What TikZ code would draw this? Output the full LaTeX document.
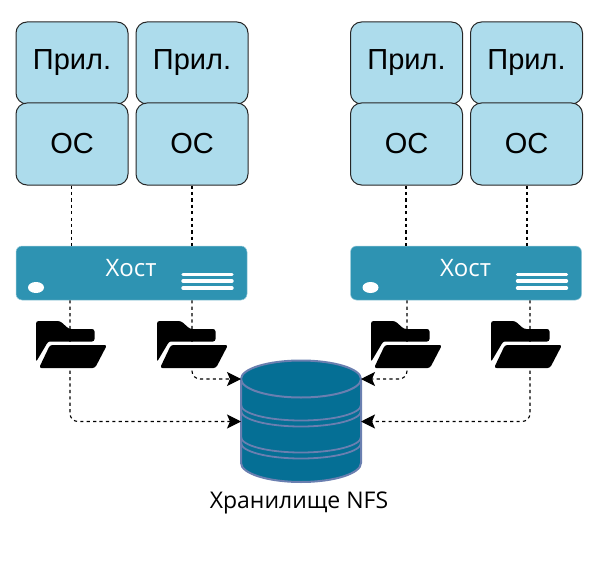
\documentclass[tikz,border=0pt]{standalone}
\usepackage{fontspec}
\setmainfont{Liberation Sans}
\newfontfamily\opensans{Open Sans}
\usepackage{xcolor}
\usetikzlibrary{arrows.meta, positioning, calc}
\definecolor{vmblue}{HTML}{ADDCEC}
\definecolor{hostblue}{HTML}{2E93B2}
\definecolor{nfsblue}{HTML}{056F95}
\definecolor{nfsedge}{HTML}{6A7FB0}
\tikzset{
  vmbox/.style={draw=black!85, fill=vmblue, rounded corners=11pt, minimum width=112pt, minimum height=82pt, inner sep=0pt, line width=1pt, font=\fontsize{29}{32}\selectfont},
  hostbox/.style={fill=hostblue, draw=hostblue!50!white, line width=0.5pt, rounded corners=6pt, minimum width=231pt, minimum height=54pt, inner sep=0pt},
  hostlabel/.style={text=white, inner sep=0pt, font=\opensans\fontsize{24}{26}\selectfont},
  link/.style={draw=black, line width=1.1pt, dash pattern=on 3.2pt off 3.2pt},
  arrlink/.style={link, rounded corners=8pt, -{Stealth[inset=3pt, length=14pt, width=14pt]}},
  folderpic/.pic={
    \fill[black, rounded corners=2.5pt] (0,0) -- (24,0) -- (33,-8) -- (58.5,-8) -- (58.5,-20.5) -- (16,-20.5) .. controls (13,-20.5) and (11.5,-21.5) .. (9.5,-25) -- (0,-41) -- cycle;
    \fill[black, rounded corners=2.5pt] (14,-24) -- (71,-24) -- (59,-47) -- (3,-47) -- cycle;
  }
}
\begin{document}
\begin{tikzpicture}[x=1pt, y=1pt]
  \useasboundingbox (0,0) rectangle (597,-583);
  % hosts with their machines
  \foreach \hx/\n in {16/a, 350.5/b} {
    \node[vmbox] (app\n1) at (\hx+56, -63) {Прил.};
    \node[vmbox] (os\n1) at (\hx+56, -144) {ОС};
    \node[vmbox] (app\n2) at (\hx+176, -63) {Прил.};
    \node[vmbox] (os\n2) at (\hx+176, -144) {ОС};
    \node[hostbox] (host\n) at (\hx+115.5, -273) {};
    \node[hostlabel] (hostlabel\n) at (\hx+115, -268) {Хост};
    \fill[white] (\hx+20, -287.5) ellipse (8pt and 5.5pt);
    \foreach \ly in {-274.5, -281, -288}
      \draw[white, line width=3.4pt, line cap=round] (\hx+167, \ly) -- (\hx+216, \ly);
  }
  % storage
  \node[minimum width=120pt, minimum height=121pt, inner sep=0pt] (nfs) at (301, -421.5) {};
  \draw[nfsedge, fill=nfsblue, line width=2pt] (241,-379) arc[start angle=180, end angle=0, x radius=60, y radius=18.5] -- (361,-463) arc[start angle=0, end angle=-180, x radius=60, y radius=19] -- cycle;
  \draw[nfsedge, line width=2pt] (241,-379) arc[start angle=180, end angle=360, x radius=60, y radius=18.5];
  \foreach \ey in {-405, -411, -437, -443}
    \draw[nfsedge, line width=1.8pt] (241,\ey) arc[start angle=180, end angle=360, x radius=60, y radius=15.5];
  \node[inner sep=0pt, font=\opensans\fontsize{23}{25}\selectfont] (nfslabel) at (299, -503) {Хранилище NFS};
  % free ends on the storage
  \coordinate (nfsla) at (241,-379);
  \coordinate (nfslb) at (241,-421.5);
  \coordinate (nfsra) at (361,-379);
  \coordinate (nfsrb) at (361,-421.5);
  % links
  \draw[link] (osa1.south -| 71.5,0) -- (hosta.north -| 71.5,0);
  \draw[link] (osa2.south -| 192,0) -- (hosta.north -| 192,0);
  \draw[link] (osb1.south -| 406,0) -- (hostb.north -| 406,0);
  \draw[link] (osb2.south -| 527,0) -- (hostb.north -| 527,0);
  \draw[arrlink] (hosta.south -| 70,0) |- (nfslb);
  \draw[arrlink] (hosta.south -| 192,0) |- (nfsla);
  \draw[arrlink] (hostb.south -| 407,0) |- (nfsra);
  \draw[arrlink] (hostb.south -| 530,0) |- (nfsrb);
  % folders
  \foreach \fx in {36, 157, 371, 491}
    \pic at (\fx, -321) {folderpic};
\end{tikzpicture}
\end{document}
